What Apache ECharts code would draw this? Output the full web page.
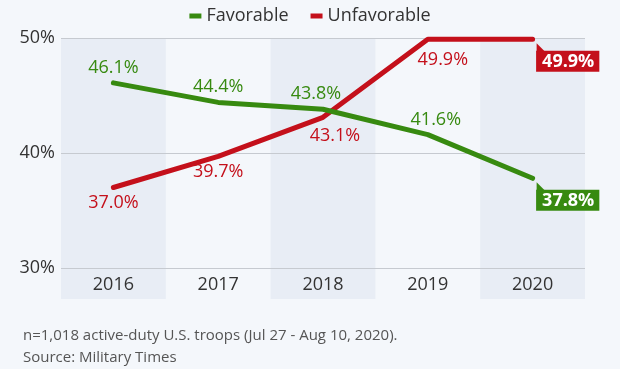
<!DOCTYPE html>
<html>
<head>
<meta charset="utf-8">
<script src="https://cdn.jsdelivr.net/npm/echarts@6/dist/echarts.min.js"></script>
<style>
html,body{margin:0;padding:0;background:#f4f7fb;}
#c{width:620px;height:369px;}
</style>
</head>
<body>
<div id="c"></div>
<script>
const categories = ['2016', '2017', '2018', '2019', '2020'];
const favorable = [46.1, 44.4, 43.8, 41.6, 37.8];
const unfavorable = [37.0, 39.7, 43.1, 49.9, 49.9];
const yTicks = [30, 40, 50];
const seriesNames = ['Favorable', 'Unfavorable'];
const footnote = 'n=1,018 active-duty U.S. troops (Jul 27 - Aug 10, 2020).\nSource: Military Times';

const GREEN = '#378a10';
const RED = '#c4101b';
const FONT = 'Open Sans';

function makeData(values, color, pos, offs) {
  const last = values.length - 1;
  return values.map((v, i) => {
    if (i === last) {
      return {
        value: v,
        label: {
          position: [4, 12],
          color: '#fff',
          fontWeight: 'bold',
          backgroundColor: color,
          padding: [2, 5, 1, 6],
          fontSize: 18
        }
      };
    }
    return { value: v, label: { position: pos, offset: offs[i] } };
  });
}

const chart = echarts.init(document.getElementById('c'), null, { renderer: 'canvas' });
chart.setOption({
  backgroundColor: '#f4f7fb',
  animation: false,
  textStyle: { fontFamily: FONT },
  title: {
    text: footnote,
    left: 18,
    top: 320,
    textStyle: { fontFamily: FONT, fontSize: 15, fontWeight: 'normal', color: '#555', lineHeight: 22 }
  },
  legend: {
    top: 2,
    left: 'center',
    itemWidth: 12,
    itemHeight: 5,
    itemGap: 22,
    icon: 'rect',
    textStyle: { fontFamily: FONT, fontSize: 18, color: '#333' },
    data: seriesNames
  },
  grid: [
    { left: 61, right: 35, top: 38, bottom: 70 },
    { left: 61, right: 35, top: 38, bottom: 101 }
  ],
  xAxis: [
    {
      type: 'category', gridIndex: 0, data: categories,
      axisLine: { show: false }, axisTick: { show: false }, axisLabel: { show: false },
      splitArea: { show: true, areaStyle: { color: ['#e8edf5', 'rgba(0,0,0,0)'] } }
    },
    {
      type: 'category', gridIndex: 1, data: categories,
      axisLine: { show: false }, axisTick: { show: false },
      axisLabel: { fontFamily: FONT, fontSize: 18, color: '#333', margin: 8 }
    }
  ],
  yAxis: [
    { type: 'value', gridIndex: 0, min: 0, max: 1, show: false },
    {
      type: 'value', gridIndex: 1,
      min: yTicks[0], max: yTicks[yTicks.length - 1], interval: yTicks[1] - yTicks[0],
      axisLine: { show: false }, axisTick: { show: false },
      axisLabel: { formatter: '{value}%', fontFamily: FONT, fontSize: 18, color: '#333', margin: 6 },
      splitLine: { show: false }
    }
  ],
  series: [
    {
      name: 'grid-lines', type: 'line', xAxisIndex: 1, yAxisIndex: 1, data: [],
      silent: true, z: 1,
      markLine: {
        silent: true, symbol: 'none', label: { show: false }, z: 1,
        lineStyle: { color: '#c6cad0', width: 1, type: 'solid' },
        data: yTicks.map(t => ({ yAxis: t }))
      }
    },
    {
      name: seriesNames[0], type: 'line', xAxisIndex: 1, yAxisIndex: 1,
      data: makeData(favorable, GREEN, 'top', [[0, 0], [0, -1], [-7, -1], [8, 0]]),
      symbol: 'circle', symbolSize: 1, showSymbol: true,
      itemStyle: { color: GREEN },
      lineStyle: { color: GREEN, width: 5, cap: 'round', join: 'round' },
      label: { show: true, formatter: p => p.value.toFixed(1) + '%', color: GREEN, fontSize: 18, fontFamily: FONT, distance: 5 },
      markPoint: {
        silent: true, label: { show: false },
        data: [{ coord: [categories[4], favorable[4]], symbol: 'path://M0,0L0,8L8,8Z', symbolSize: [8, 8], symbolOffset: [8, 8], itemStyle: { color: GREEN } }]
      },
      z: 3
    },
    {
      name: seriesNames[1], type: 'line', xAxisIndex: 1, yAxisIndex: 1,
      data: makeData(unfavorable, RED, 'bottom', [[0, 1], [0, 1], [12, 4], [15, 6]]),
      symbol: 'circle', symbolSize: 1, showSymbol: true,
      itemStyle: { color: RED },
      lineStyle: { color: RED, width: 5, cap: 'round', join: 'round' },
      label: { show: true, formatter: p => p.value.toFixed(1) + '%', color: RED, fontSize: 18, fontFamily: FONT, distance: 5 },
      markPoint: {
        silent: true, label: { show: false },
        data: [{ coord: [categories[4], unfavorable[4]], symbol: 'path://M0,0L0,8L8,8Z', symbolSize: [8, 8], symbolOffset: [8, 8], itemStyle: { color: RED } }]
      },
      z: 2
    }
  ]
});
</script>
</body>
</html>
